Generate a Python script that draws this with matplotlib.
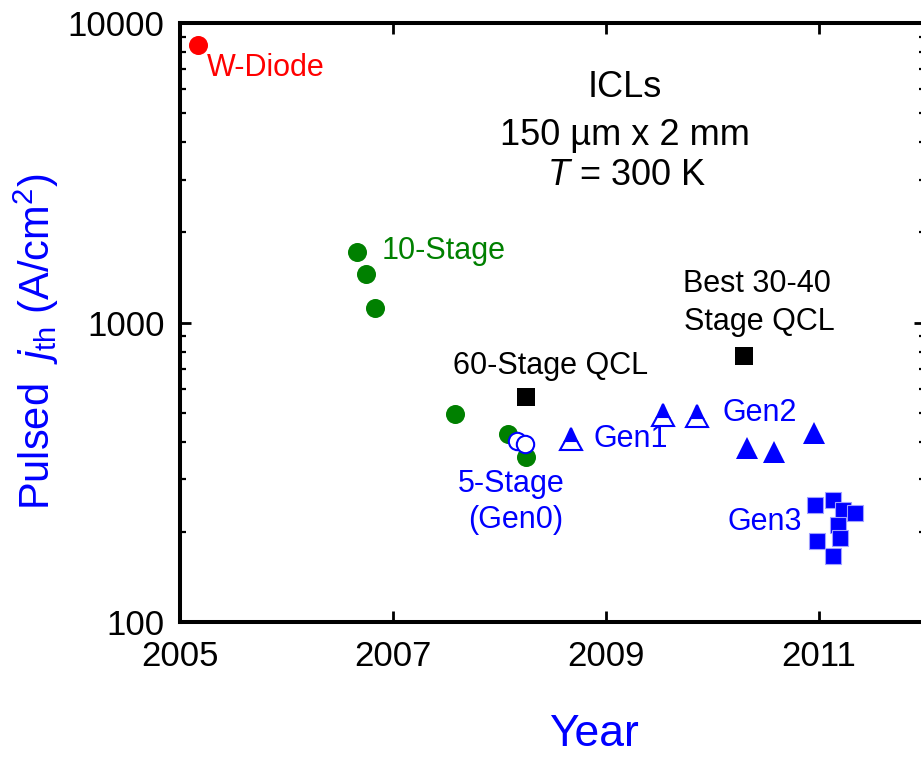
import matplotlib
matplotlib.use("Agg")
import matplotlib.pyplot as plt
from matplotlib.ticker import LogLocator, NullFormatter, FixedLocator, NullLocator

plt.rcParams['font.family'] = ['Liberation Sans', 'DejaVu Sans']
plt.rcParams['mathtext.fontset'] = 'custom'
plt.rcParams['mathtext.rm'] = 'Liberation Sans'
plt.rcParams['mathtext.it'] = 'Liberation Sans:italic'
plt.rcParams['mathtext.bf'] = 'Liberation Sans:bold'

# ---- data ----
wdiode_year = [2005.166]
wdiode_j = [8443]

stage10_year = [2006.666, 2006.748, 2006.833, 2007.584, 2008.079, 2008.251]
stage10_j = [1715, 1455, 1115, 495, 423, 355]

gen0_year = [2008.164, 2008.244]
gen0_j = [403, 392]

qcl_year = [2008.251, 2010.302]
qcl_j = [565, 773]

gen1_year = [2008.671, 2009.541, 2009.861]
gen1_j = [407, 491, 489]

gen2_year = [2010.325, 2010.584, 2010.960]
gen2_j = [380, 370, 427]

gen3_year = [2010.964, 2011.136, 2011.232, 2011.345, 2011.180, 2011.197, 2010.985, 2011.136]
gen3_j = [246, 255.5, 236.6, 230.6, 210.8, 190.3, 186.7, 166.3]

xticks = [2005, 2007, 2009, 2011]
yticks = [100, 1000, 10000]
ytick_labels = ['100', '1000', '10000']

RED = '#ff0000'
GREEN = '#008000'
BLUE = '#0000ff'

fig = plt.figure(figsize=(9.21, 7.58), dpi=100)
ax = fig.add_axes([180/921, 136/758, 745/921, 599/758])

ax.set_xscale('linear')
ax.set_yscale('log')
ax.set_xlim(2005, 2012)
ax.set_ylim(100, 10000)

ms_c = 13.7
ax.plot(wdiode_year, wdiode_j, 'o', color=RED, ms=ms_c, mew=0, zorder=3)
ax.plot(stage10_year, stage10_j, 'o', color=GREEN, ms=ms_c, mew=0, zorder=3)
ax.plot(gen0_year, gen0_j, 'o', mfc='white', mec=BLUE, ms=ms_c - 1.2, mew=1.5, zorder=4)
ax.plot(qcl_year, qcl_j, 's', color='black', ms=12.5, mew=0, zorder=3)
ax.plot(gen1_year, gen1_j, '^', color=BLUE, fillstyle='top', markerfacecoloralt='white',
        mec=BLUE, ms=15.5, mew=1.5, zorder=3)
ax.plot(gen2_year, gen2_j, '^', color=BLUE, ms=16.5, mew=0, zorder=3)
ax.plot(gen3_year, gen3_j, 's', mfc=BLUE, mec='#a0a0ff', ms=12.0, mew=0.8, zorder=3)

# ---- annotations ----
fs_a = 22
ax.text(2005.257, 7094, 'W-Diode', color=RED, fontsize=fs_a, ha='left', va='center')
ax.text(2006.898, 1729, '10-Stage', color=GREEN, fontsize=fs_a, ha='left', va='center')
ax.text(2007.568, 717, '60-Stage QCL', color='black', fontsize=fs_a, ha='left', va='center')
ax.text(2010.419, 1344, 'Best 30-40', color='black', fontsize=fs_a, ha='center', va='center')
ax.text(2010.44, 1006, 'Stage QCL', color='black', fontsize=fs_a, ha='center', va='center')
ax.text(2008.11, 289, '5-Stage', color=BLUE, fontsize=fs_a, ha='center', va='center')
ax.text(2008.157, 219, '(Gen0)', color=BLUE, fontsize=fs_a, ha='center', va='center')
ax.text(2008.883, 408, 'Gen1', color=BLUE, fontsize=fs_a, ha='left', va='center')
ax.text(2010.099, 498.6, 'Gen2', color=BLUE, fontsize=fs_a, ha='left', va='center')
ax.text(2010.142, 215, 'Gen3', color=BLUE, fontsize=fs_a, ha='left', va='center')

fs_b = 26
ax.text(2009.181, 6113, 'ICLs', color='black', fontsize=fs_b, ha='center', va='center')
ax.text(2009.181, 4227, '150 \u00b5m x 2 mm', color='black', fontsize=fs_b, ha='center', va='center')
ax.text(2009.20, 3108, '$T$ = 300 K', color='black', fontsize=fs_b, ha='center', va='center')

# ---- axes styling ----
for s in ax.spines.values():
    s.set_linewidth(2.9)

ax.xaxis.set_major_locator(FixedLocator(xticks))
ax.xaxis.set_minor_locator(NullLocator())
ax.set_xticklabels([str(t) for t in xticks])
ax.yaxis.set_major_locator(FixedLocator(yticks))
ax.set_yticklabels(ytick_labels)
ax.yaxis.set_minor_locator(LogLocator(base=10, subs=range(2, 10)))
ax.yaxis.set_minor_formatter(NullFormatter())

ax.tick_params(which='both', direction='in', top=True, right=True)
ax.tick_params(which='major', length=8, width=2.0, labelsize=25, pad=11)
ax.tick_params(which='minor', length=4.5, width=1.6)
ax.tick_params(axis='x', which='major', pad=13)

fig.text(594/921, 1 - 735/758, 'Year', color=BLUE, fontsize=32, ha='center', va='center')
fig.text(36/921, 1 - 342/758, 'Pulsed  $j_{\\mathrm{th}}$ (A/cm$^2$)', color=BLUE, fontsize=30,
         ha='center', va='center', rotation=90)

fig.savefig('out.png', dpi=100)
